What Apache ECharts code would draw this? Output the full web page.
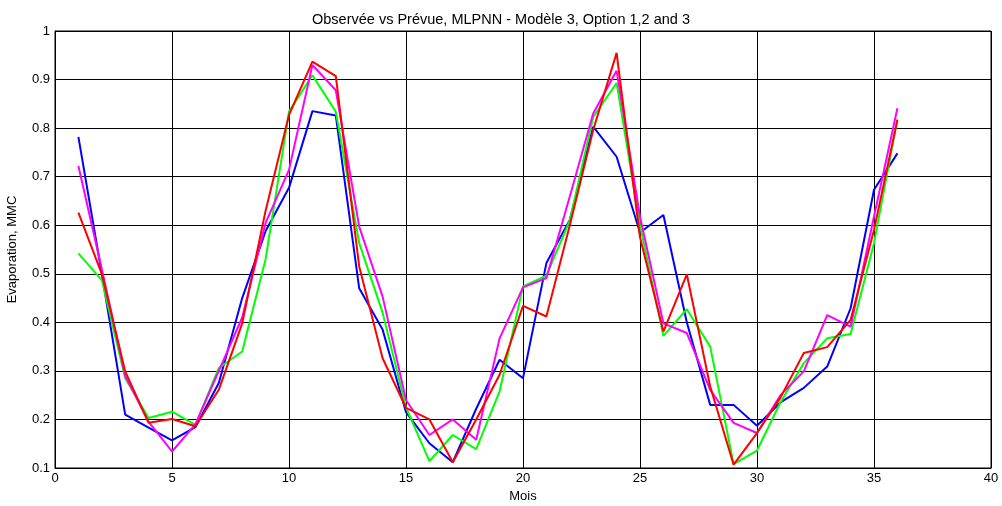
<!DOCTYPE html>
<html><head><meta charset="utf-8">
<script src="https://cdn.jsdelivr.net/npm/echarts@6/dist/echarts.min.js"></script>
<style>html,body{margin:0;padding:0;background:#fff}#c{width:1002px;height:506px}</style>
</head><body><div id="c"></div>
<script>
const months = [1,2,3,4,5,6,7,8,9,10,11,12,13,14,15,16,17,18,19,20,21,22,23,24,25,26,27,28,29,30,31,32,33,34,35,36];
const blue    = [0.782,0.50,0.21,0.183,0.157,0.184,0.275,0.45,0.588,0.677,0.835,0.826,0.47,0.385,0.215,0.151,0.112,0.222,0.323,0.285,0.522,0.611,0.803,0.741,0.585,0.621,0.40,0.23,0.23,0.187,0.235,0.265,0.309,0.429,0.673,0.748];
const red     = [0.626,0.50,0.299,0.193,0.201,0.186,0.261,0.398,0.63,0.827,0.937,0.907,0.515,0.326,0.224,0.20,0.112,0.20,0.292,0.434,0.412,0.60,0.796,0.955,0.575,0.381,0.499,0.268,0.107,0.172,0.245,0.337,0.349,0.405,0.59,0.817];
const green   = [0.542,0.487,0.285,0.203,0.216,0.189,0.306,0.34,0.53,0.834,0.909,0.834,0.563,0.42,0.225,0.114,0.168,0.139,0.258,0.474,0.496,0.61,0.823,0.893,0.60,0.372,0.427,0.35,0.108,0.136,0.235,0.316,0.367,0.376,0.563,0.818];
const magenta = [0.722,0.51,0.29,0.195,0.134,0.19,0.30,0.41,0.605,0.714,0.93,0.878,0.597,0.453,0.24,0.168,0.20,0.158,0.367,0.472,0.491,0.659,0.83,0.918,0.618,0.398,0.378,0.261,0.193,0.172,0.25,0.299,0.415,0.391,0.618,0.841];
const xTicks = [0,5,10,15,20,25,30,35,40];
const yTicks = [0.1,0.2,0.3,0.4,0.5,0.6,0.7,0.8,0.9,1];

const pair = a => months.map((m,i)=>[m,a[i]]);
const font = 'Liberation Sans, Arial, sans-serif';
const mk = (name, data, color, w) => ({
  name, type:'line', data: pair(data), showSymbol:false, symbol:'none',
  lineStyle:{color, width:w}, itemStyle:{color}, animation:false
});
const chart = echarts.init(document.getElementById('c'), null, {renderer:'canvas'});
chart.setOption({
  backgroundColor:'#fff',
  animation:false,
  title:{text:'Observée vs Prévue, MLPNN - Modèle 3, Option 1,2 and 3', left:'center', top:7,
    textStyle:{fontFamily:font, fontSize:14.5, fontWeight:'normal', color:'#000'}},
  grid:{left:55, right:11, top:31, bottom:38, outerBoundsMode:'none', containLabel:false,
    show:true, borderColor:'#000', borderWidth:1, backgroundColor:'#fff'},
  xAxis:{type:'value', min:xTicks[0], max:xTicks[xTicks.length-1], interval:5,
    name:'Mois', nameLocation:'middle', nameGap:22,
    nameTextStyle:{fontFamily:font, fontSize:13, color:'#000'},
    axisLine:{show:true, lineStyle:{color:'#000'}},
    axisTick:{show:true, inside:true, length:4, lineStyle:{color:'#000'}},
    axisLabel:{fontFamily:font, fontSize:13, color:'#000', margin:4},
    splitLine:{show:true, lineStyle:{color:'#000', width:1}}},
  yAxis:{type:'value', min:yTicks[0], max:yTicks[yTicks.length-1], interval:0.1,
    name:'Evaporation, MMC', nameLocation:'middle', nameGap:36,
    nameTextStyle:{fontFamily:font, fontSize:13, color:'#000'},
    axisLine:{show:true, lineStyle:{color:'#000'}},
    axisTick:{show:true, inside:true, length:4, lineStyle:{color:'#000'}},
    axisLabel:{fontFamily:font, fontSize:13, color:'#000', margin:5,
      formatter:v=>String(Math.round(v*10)/10)},
    splitLine:{show:true, lineStyle:{color:'#000', width:1}}},
  series:[
    mk('Observée', blue, '#0000ff', 2),
    mk('Option 1', green, '#00ff00', 2),
    mk('Option 2', magenta, '#ff00ff', 2),
    mk('Option 3', red, '#ff0000', 2)
  ]
});
</script></body></html>
